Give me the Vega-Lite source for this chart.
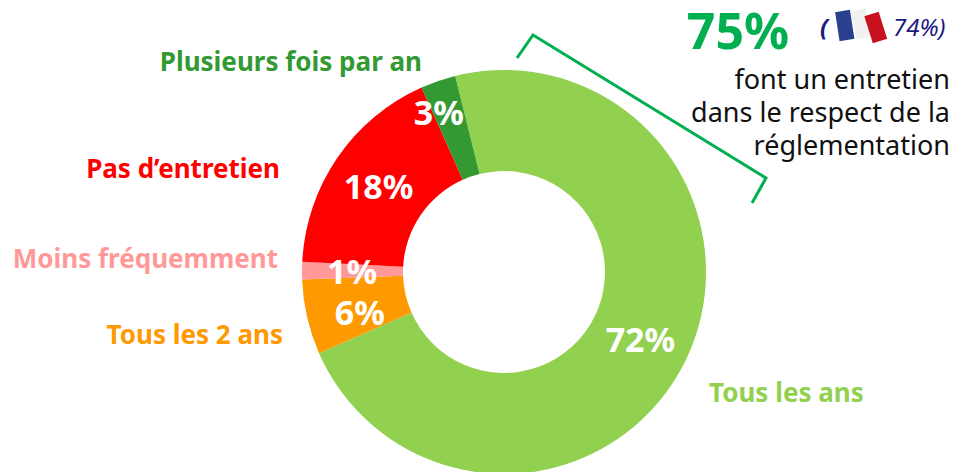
{
"$schema":"https://vega.github.io/schema/vega-lite/v6.json",
"width":957,"height":472,"padding":0,"autosize":"none",
"background":"white",
"view":{"stroke":null},
"config":{"font":"Noto Sans","text":{"font":"Noto Sans"}},
"datasets":{
"slices":[
{"order":1,"category":"Tous les ans","value":72.3,"label":"72%"},
{"order":2,"category":"Tous les 2 ans","value":6.0,"label":"6%"},
{"order":3,"category":"Moins fréquemment","value":1.4,"label":"1%"},
{"order":4,"category":"Pas d’entretien","value":17.5,"label":"18%"},
{"order":5,"category":"Plusieurs fois par an","value":2.8,"label":"3%"}
],
"bracket":[{"i":1,"px":517,"py":58},{"i":2,"px":533,"py":35},{"i":3,"px":766,"py":178},{"i":4,"px":752,"py":203}],
"flag":[
{"part":"bleu","px":842.5,"py":11,"px2":847,"py2":40},
{"part":"blanc","px":858,"py":10,"px2":864,"py2":38},
{"part":"rouge","px":871.5,"py":14,"px2":880,"py2":41}
]},
"data":{"name":"slices"},
"layer":[
{"mark":{"type":"arc","radius":202,"radius2":101},
 "encoding":{
 "x":{"datum":504,"type":"quantitative","scale":{"domain":[0,957],"range":[0,957],"nice":false},"axis":null},
 "y":{"datum":272,"type":"quantitative","scale":{"domain":[0,472],"range":[0,472],"nice":false},"axis":null},
 "theta":{"field":"value","type":"quantitative","stack":true,"scale":{"domain":[0,100],"range":[-0.2443,6.0389]}},
 "order":{"field":"order"},
 "color":{"field":"category","type":"nominal","legend":null,"scale":{"domain":["Tous les ans","Tous les 2 ans","Moins fréquemment","Pas d’entretien","Plusieurs fois par an"],"range":["#92D050","#FF9900","#FF9999","#FF0000","#339933"]}}
 }},
{"mark":{"type":"text","radius":152,"dy":3,"fontWeight":"bold","fontSize":34,"color":"white"},
 "encoding":{
 "x":{"datum":504,"type":"quantitative","scale":{"domain":[0,957],"range":[0,957],"nice":false},"axis":null},"y":{"datum":272,"type":"quantitative","scale":{"domain":[0,472],"range":[0,472],"nice":false},"axis":null},
 "theta":{"field":"value","type":"quantitative","stack":true},"order":{"field":"order"},"detail":{"field":"category"},
 "text":{"condition":{"test":"datum.order===1||datum.order===3||datum.order===4","field":"label"},"value":""}}},
{"mark":{"type":"text","radius":150,"dx":2,"dy":9,"fontWeight":"bold","fontSize":34,"color":"white"},
 "encoding":{
 "x":{"datum":504,"type":"quantitative","scale":{"domain":[0,957],"range":[0,957],"nice":false},"axis":null},"y":{"datum":272,"type":"quantitative","scale":{"domain":[0,472],"range":[0,472],"nice":false},"axis":null},
 "theta":{"field":"value","type":"quantitative","stack":true},"order":{"field":"order"},"detail":{"field":"category"},
 "text":{"condition":{"test":"datum.order===2","field":"label"},"value":""}}},
{"mark":{"type":"text","radius":172,"dx":-9,"dy":6,"fontWeight":"bold","fontSize":34,"color":"white"},
 "encoding":{
 "x":{"datum":504,"type":"quantitative","scale":{"domain":[0,957],"range":[0,957],"nice":false},"axis":null},"y":{"datum":272,"type":"quantitative","scale":{"domain":[0,472],"range":[0,472],"nice":false},"axis":null},
 "theta":{"field":"value","type":"quantitative","stack":true},"order":{"field":"order"},"detail":{"field":"category"},
 "text":{"condition":{"test":"datum.order===5","field":"label"},"value":""}}},
{"transform":[{"filter":"datum.order===5"}],"mark":{"type":"text","align":"right","fontWeight":"bold","fontSize":26,"color":"#339933"},
 "encoding":{"x":{"datum":422,"type":"quantitative","scale":{"domain":[0,957],"range":[0,957],"nice":false},"axis":null},"y":{"datum":63,"type":"quantitative","scale":{"domain":[0,472],"range":[0,472],"nice":false},"axis":null},"text":{"field":"category"}}},
{"transform":[{"filter":"datum.order===4"}],"mark":{"type":"text","align":"right","fontWeight":"bold","fontSize":26,"color":"#FF0000"},
 "encoding":{"x":{"datum":280,"type":"quantitative","scale":{"domain":[0,957],"range":[0,957],"nice":false},"axis":null},"y":{"datum":170,"type":"quantitative","scale":{"domain":[0,472],"range":[0,472],"nice":false},"axis":null},"text":{"field":"category"}}},
{"transform":[{"filter":"datum.order===3"}],"mark":{"type":"text","align":"right","fontWeight":"bold","fontSize":26,"color":"#FF9999"},
 "encoding":{"x":{"datum":278,"type":"quantitative","scale":{"domain":[0,957],"range":[0,957],"nice":false},"axis":null},"y":{"datum":260,"type":"quantitative","scale":{"domain":[0,472],"range":[0,472],"nice":false},"axis":null},"text":{"field":"category"}}},
{"transform":[{"filter":"datum.order===2"}],"mark":{"type":"text","align":"right","fontWeight":"bold","fontSize":26,"color":"#FF9900"},
 "encoding":{"x":{"datum":283,"type":"quantitative","scale":{"domain":[0,957],"range":[0,957],"nice":false},"axis":null},"y":{"datum":336,"type":"quantitative","scale":{"domain":[0,472],"range":[0,472],"nice":false},"axis":null},"text":{"field":"category"}}},
{"transform":[{"filter":"datum.order===1"}],"mark":{"type":"text","align":"left","fontWeight":"bold","fontSize":26,"color":"#92D050"},
 "encoding":{"x":{"datum":709,"type":"quantitative","scale":{"domain":[0,957],"range":[0,957],"nice":false},"axis":null},"y":{"datum":394,"type":"quantitative","scale":{"domain":[0,472],"range":[0,472],"nice":false},"axis":null},"text":{"field":"category"}}},
{"data":{"name":"bracket"},"mark":{"type":"line","color":"#00B050","strokeWidth":3},
 "encoding":{"x":{"field":"px","type":"quantitative","scale":{"domain":[0,957],"range":[0,957],"nice":false},"axis":null},"y":{"field":"py","type":"quantitative","scale":{"domain":[0,472],"range":[0,472],"nice":false},"axis":null},"order":{"field":"i"}}},
{"data":{"name":"flag"},"mark":{"type":"rule","strokeWidth":15},
 "encoding":{"x":{"field":"px","type":"quantitative","scale":{"domain":[0,957],"range":[0,957],"nice":false},"axis":null},"y":{"field":"py","type":"quantitative","scale":{"domain":[0,472],"range":[0,472],"nice":false},"axis":null},"x2":{"field":"px2"},"y2":{"field":"py2"},
 "stroke":{"field":"part","type":"nominal","legend":null,"scale":{"domain":["bleu","blanc","rouge"],"range":["#2B3F8F","#F0F0F0","#C8101E"]}}}},
{"data":{"values":[{"t":"75%"}]},"mark":{"type":"text","align":"center","fontWeight":"bold","fontSize":50,"color":"#00B050"},
 "encoding":{"x":{"datum":738,"type":"quantitative","scale":{"domain":[0,957],"range":[0,957],"nice":false},"axis":null},"y":{"datum":34,"type":"quantitative","scale":{"domain":[0,472],"range":[0,472],"nice":false},"axis":null},"text":{"field":"t"}}},
{"data":{"values":[{"t":"("}]},"mark":{"type":"text","align":"center","fontStyle":"italic","fontWeight":"bold","fontSize":24,"color":"#1A1A80"},
 "encoding":{"x":{"datum":824,"type":"quantitative","scale":{"domain":[0,957],"range":[0,957],"nice":false},"axis":null},"y":{"datum":29,"type":"quantitative","scale":{"domain":[0,472],"range":[0,472],"nice":false},"axis":null},"text":{"field":"t"}}},
{"data":{"values":[{"t":"74%)"}]},"mark":{"type":"text","align":"left","fontStyle":"italic","fontSize":24,"color":"#1A1A80"},
 "encoding":{"x":{"datum":893,"type":"quantitative","scale":{"domain":[0,957],"range":[0,957],"nice":false},"axis":null},"y":{"datum":29,"type":"quantitative","scale":{"domain":[0,472],"range":[0,472],"nice":false},"axis":null},"text":{"field":"t"}}},
{"data":{"values":[{"t":"font un entretien"}]},"mark":{"type":"text","align":"right","fontSize":27,"color":"#111111"},
 "encoding":{"x":{"datum":950,"type":"quantitative","scale":{"domain":[0,957],"range":[0,957],"nice":false},"axis":null},"y":{"datum":81,"type":"quantitative","scale":{"domain":[0,472],"range":[0,472],"nice":false},"axis":null},"text":{"field":"t"}}},
{"data":{"values":[{"t":"dans le respect de la"}]},"mark":{"type":"text","align":"right","fontSize":27,"color":"#111111"},
 "encoding":{"x":{"datum":950,"type":"quantitative","scale":{"domain":[0,957],"range":[0,957],"nice":false},"axis":null},"y":{"datum":114,"type":"quantitative","scale":{"domain":[0,472],"range":[0,472],"nice":false},"axis":null},"text":{"field":"t"}}},
{"data":{"values":[{"t":"réglementation"}]},"mark":{"type":"text","align":"right","fontSize":27,"color":"#111111"},
 "encoding":{"x":{"datum":950,"type":"quantitative","scale":{"domain":[0,957],"range":[0,957],"nice":false},"axis":null},"y":{"datum":147,"type":"quantitative","scale":{"domain":[0,472],"range":[0,472],"nice":false},"axis":null},"text":{"field":"t"}}}
]
}
